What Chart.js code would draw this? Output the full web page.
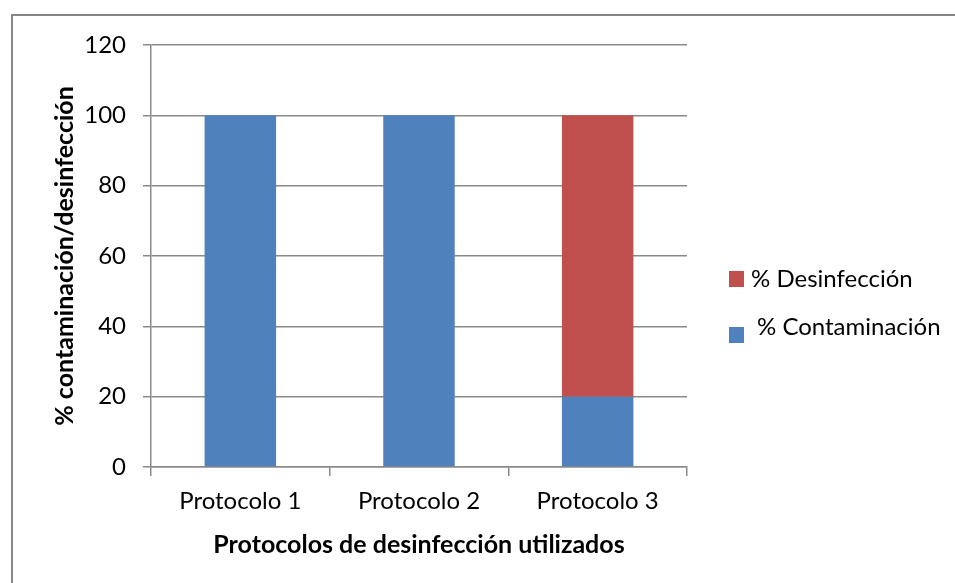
<!DOCTYPE html>
<html>
<head>
<meta charset="utf-8">
<script src="https://cdn.jsdelivr.net/npm/chart.js@4"></script>
<style>
  html, body { margin: 0; padding: 0; background: #ffffff; }
  #wrap { width: 955px; height: 583px; position: relative; }
</style>
</head>
<body>
<div id="wrap"><canvas id="c" width="955" height="583"></canvas></div>
<script>
// Disinfection protocols and stacked percentages
const categories = ['Protocolo 1', 'Protocolo 2', 'Protocolo 3'];
const contaminacion = [100, 100, 20];
const desinfeccion = [0, 0, 80];
const seriesNames = ['% Contaminación', '% Desinfección'];
const yTickValues = [0, 20, 40, 60, 80, 100, 120];
const xTitle = 'Protocolos de desinfección utilizados';
const yTitle = '% contaminación/desinfección';

const BLUE = '#4f81bd';
const RED = '#c0504d';
const GRID = '#8a8a8a';
const FONT = 'Lato, "Open Sans", sans-serif';

// Frame, axis titles and the side legend
const decorations = {
  id: 'decorations',
  beforeDraw(chart) {
    const ctx = chart.ctx;
    ctx.save();
    ctx.fillStyle = '#ffffff';
    ctx.fillRect(0, 0, chart.width, chart.height);
    ctx.strokeStyle = '#868686';
    ctx.lineWidth = 2;
    ctx.beginPath();
    ctx.moveTo(12, chart.height);
    ctx.lineTo(12, 15);
    ctx.lineTo(chart.width, 15);
    ctx.stroke();
    ctx.restore();
  },
  afterDraw(chart) {
    const ctx = chart.ctx;
    const a = chart.chartArea;
    ctx.save();
    ctx.fillStyle = '#000000';
    ctx.textAlign = 'center';
    ctx.textBaseline = 'middle';
    ctx.font = 'bold 25px ' + FONT;
    ctx.fillText(xTitle, (a.left + a.right) / 2, 545);
    ctx.translate(65, (a.top + a.bottom) / 2);
    ctx.rotate(-Math.PI / 2);
    ctx.fillText(yTitle, 0, 0);
    ctx.restore();

    // legend, listed top-down in reverse stacking order
    ctx.save();
    ctx.font = '24px ' + FONT;
    ctx.textAlign = 'left';
    ctx.textBaseline = 'middle';
    const ds = chart.data.datasets.slice().reverse();
    const rows = [{ boxY: 271, textY: 279, textX: 751 }, { boxY: 327, textY: 327, textX: 757 }];
    ds.forEach((d, i) => {
      const r = rows[i];
      ctx.fillStyle = d.backgroundColor;
      ctx.fillRect(729, r.boxY, 15, 16);
      ctx.fillStyle = '#000000';
      ctx.fillText(d.label, r.textX, r.textY);
    });
    ctx.restore();
  }
};

new Chart(document.getElementById('c'), {
  type: 'bar',
  data: {
    labels: categories,
    datasets: [
      { label: seriesNames[0], data: contaminacion, backgroundColor: BLUE },
      { label: seriesNames[1], data: desinfeccion, backgroundColor: RED }
    ]
  },
  options: {
    responsive: false,
    animation: false,
    devicePixelRatio: 1,
    layout: { padding: { left: 0, top: 45, right: 268, bottom: 0 } },
    datasets: { bar: { categoryPercentage: 1, barPercentage: 0.4 } },
    plugins: { legend: { display: false }, tooltip: { enabled: false } },
    scales: {
      x: {
        stacked: true,
        afterFit(s) { s.height = 116; },
        grid: { drawOnChartArea: false, drawTicks: true, tickLength: 9, color: GRID, lineWidth: 1.5, offset: true },
        border: { display: true, color: GRID, width: 1.5 },
        ticks: { color: '#000000', font: { family: FONT, size: 24 }, padding: 11, maxRotation: 0 }
      },
      y: {
        stacked: true,
        min: 0,
        max: 120,
        afterFit(s) { s.width = 151; },
        afterBuildTicks(s) { s.ticks = yTickValues.map(v => ({ value: v })); },
        grid: { color: GRID, lineWidth: 1.5, tickLength: 8, drawTicks: true },
        border: { display: true, color: GRID, width: 1.5 },
        ticks: { color: '#000000', font: { family: FONT, size: 24 }, padding: 17 }
      }
    }
  },
  plugins: [decorations]
});
</script>
</body>
</html>
